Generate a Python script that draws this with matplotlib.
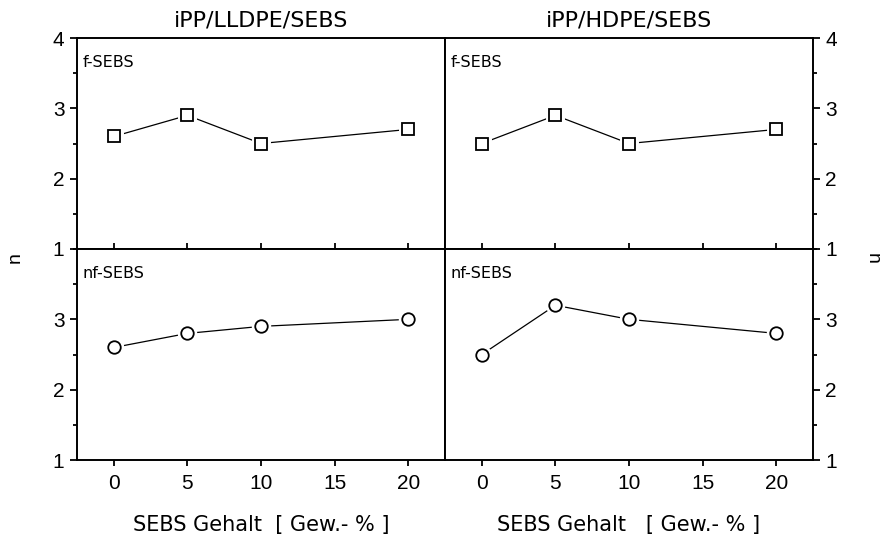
"""Exponent n vs. SEBS content for iPP blends with functionalised / non-functionalised SEBS."""

import matplotlib

matplotlib.use("Agg")

import matplotlib.pyplot as plt  # noqa: E402
from matplotlib.ticker import MultipleLocator  # noqa: E402

plt.rcParams["font.family"] = ["Liberation Sans", "DejaVu Sans"]
WIDE = ["DejaVu Sans"]

sebs_content = [0, 5, 10, 20]
blend_titles = ["iPP/LLDPE/SEBS", "iPP/HDPE/SEBS"]
xlabels = ["SEBS Gehalt  [ Gew.- % ]", "SEBS Gehalt   [ Gew.- % ]"]
row_labels = ["f-SEBS", "nf-SEBS"]

# n values, rows: f-SEBS / nf-SEBS, columns: LLDPE / HDPE blend
n_f_lldpe = [2.6, 2.9, 2.5, 2.7]
n_f_hdpe = [2.5, 2.9, 2.5, 2.7]
n_nf_lldpe = [2.6, 2.8, 2.9, 3.0]
n_nf_hdpe = [2.5, 3.2, 3.0, 2.8]

series = [[n_f_lldpe, n_f_hdpe], [n_nf_lldpe, n_nf_hdpe]]
markers = ["s", "o"]

fig = plt.figure(figsize=(8.86, 5.42), dpi=100)

x0, xm, x1 = 77 / 886, 445 / 886, 813 / 886
y_top, y_mid, y_bot = 1 - 38 / 542, 1 - 249 / 542, 1 - 460 / 542

for row in range(2):
    for col in range(2):
        left = x0 if col == 0 else xm
        bottom = y_mid if row == 0 else y_bot
        height = (y_top - y_mid) if row == 0 else (y_mid - y_bot)
        ax = fig.add_axes([left, bottom, xm - x0, height])
        vals = series[row][col]
        ax.plot(sebs_content, vals, color="black", lw=0.9)
        # white halo so the connecting line stops short of each symbol
        ax.plot(sebs_content, vals, ls="none", marker=markers[row], ms=9,
                mfc="white", mec="white", mew=5)
        ax.plot(sebs_content, vals, ls="none", marker=markers[row], ms=9,
                mfc="white", mec="black", mew=1.3)
        ax.set_xlim(-2.5, 22.5)
        ax.set_ylim(1, 4)
        for sp in ax.spines.values():
            sp.set_linewidth(1.4)

        ax.yaxis.set_major_locator(MultipleLocator(1))
        ax.yaxis.set_minor_locator(MultipleLocator(0.5))
        if row == 1:
            ax.set_yticks([1, 2, 3])
        ax.xaxis.set_major_locator(MultipleLocator(5))

        if col == 0:
            ax.tick_params(axis="y", which="both", left=True, right=False,
                           labelleft=True, labelright=False, direction="out")
        else:
            ax.tick_params(axis="y", which="both", left=False, right=True,
                           labelleft=False, labelright=True, direction="out")
        ax.tick_params(axis="y", which="major", length=5, width=1.3,
                       labelsize=15, pad=4)
        ax.tick_params(axis="y", which="minor", length=3, width=1.3)

        if row == 0:
            ax.tick_params(axis="x", direction="in", length=4, width=1.3,
                           labelbottom=False)
            ax.set_title(blend_titles[col], fontsize=16, pad=8, family=WIDE)
        else:
            ax.tick_params(axis="x", direction="out", length=4, width=1.3,
                           labelsize=15, pad=6)
            ax.set_xlabel(xlabels[col], fontsize=15, labelpad=16, family=WIDE)

        ax.text(0.015, 0.92, row_labels[row], transform=ax.transAxes,
                fontsize=11.5, ha="left", va="top", family=WIDE)

fig.text(15 / 886, 1 - 258 / 542, "n", rotation=90, fontsize=14,
         ha="center", va="center")
fig.text(872 / 886, 1 - 258 / 542, "n", rotation=270, fontsize=14,
         ha="center", va="center")

fig.savefig("out.png", dpi=100)
plt.close(fig)
